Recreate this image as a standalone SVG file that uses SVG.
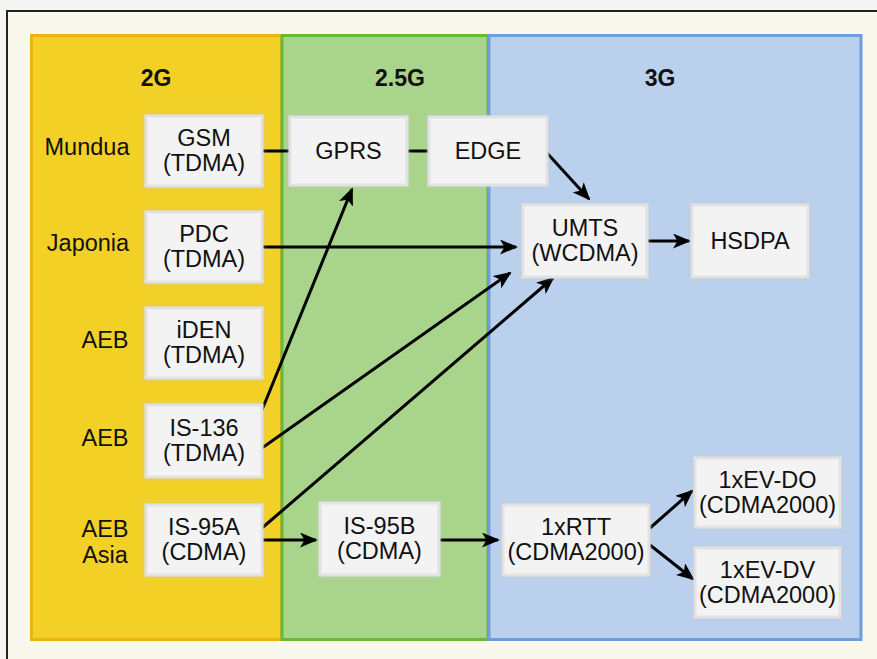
<svg xmlns="http://www.w3.org/2000/svg" width="877" height="659" viewBox="0 0 877 659">
<defs>
<style>
.lbl{font-family:"Liberation Sans",Arial,sans-serif;font-size:23.5px;fill:#111;text-anchor:middle}
.hdr{font-family:"Liberation Sans",Arial,sans-serif;font-size:23px;font-weight:bold;fill:#111;text-anchor:middle}
.box{fill:#f3f3f3;stroke:#e2e2e2;stroke-width:3;filter:url(#soft)}
.ln{stroke:#000;stroke-width:3;fill:none}
.ar{stroke:#000;stroke-width:3;fill:none;marker-end:url(#ah)}
</style>
<filter id="soft" x="-10%" y="-10%" width="120%" height="120%">
<feGaussianBlur in="SourceAlpha" stdDeviation="2" result="b"/>
<feFlood flood-color="#c8c8c8" flood-opacity="0.6"/>
<feComposite in2="b" operator="in" result="s"/>
<feMerge><feMergeNode in="s"/><feMergeNode in="SourceGraphic"/></feMerge>
</filter>
<marker id="ah" viewBox="0 0 18 15" refX="16" refY="7.5" markerWidth="18" markerHeight="15" markerUnits="userSpaceOnUse" orient="auto">
<path d="M0,0 L18,7.5 L0,15 L4.5,7.5 Z" fill="#000"/>
</marker>
</defs>
<rect x="0" y="0" width="877" height="659" fill="#f4f4f2"/>
<rect x="7" y="11" width="880" height="660" fill="#faf7ec" stroke="#222" stroke-width="2"/>
<g id="panels">
<rect x="31.5" y="35.5" width="250" height="604" fill="#f2d026" stroke="#eab514" stroke-width="3"/>
<rect x="282" y="35.5" width="206" height="604" fill="#a9d48b" stroke="#6bb736" stroke-width="3"/>
<rect x="489" y="35.5" width="372" height="604" fill="#bad0ec" stroke="#6e9cdc" stroke-width="3"/>
<text class="hdr" x="156" y="86">2G</text>
<text class="hdr" x="400" y="86">2.5G</text>
<text class="hdr" x="660" y="86">3G</text>
</g>
<g id="regions">
<text class="lbl" x="87" y="155">Mundua</text>
<text class="lbl" x="88" y="251">Japonia</text>
<text class="lbl" x="105" y="348">AEB</text>
<text class="lbl" x="105" y="446">AEB</text>
<text class="lbl" x="105" y="537">AEB</text>
<text class="lbl" x="105" y="563">Asia</text>
</g>
<g id="connectors">
<line class="ln" x1="262" y1="151" x2="290" y2="151"/>
<line class="ln" x1="407" y1="151" x2="429" y2="151"/>
<line class="ar" x1="547" y1="153" x2="589" y2="199"/>
<line class="ar" x1="262" y1="247" x2="516" y2="247"/>
<line class="ar" x1="648" y1="241" x2="689" y2="241"/>
<line class="ar" x1="262" y1="410" x2="352" y2="189"/>
<line class="ar" x1="262" y1="448" x2="510" y2="273"/>
<line class="ar" x1="262" y1="528" x2="553" y2="278"/>
<line class="ar" x1="262" y1="540" x2="316" y2="540"/>
<line class="ar" x1="439" y1="540" x2="498" y2="540"/>
<line class="ar" x1="650" y1="528" x2="692" y2="491"/>
<line class="ar" x1="650" y1="545" x2="693" y2="579"/>
</g>
<g id="n-gsm"><rect class="box" x="146" y="116" width="116" height="70"/><text class="lbl" x="204" y="146">GSM</text><text class="lbl" x="204" y="171">(TDMA)</text></g>
<g id="n-pdc"><rect class="box" x="146" y="212" width="116" height="70"/><text class="lbl" x="204" y="242">PDC</text><text class="lbl" x="204" y="267">(TDMA)</text></g>
<g id="n-iden"><rect class="box" x="146" y="308" width="116" height="70"/><text class="lbl" x="204" y="338">iDEN</text><text class="lbl" x="204" y="363">(TDMA)</text></g>
<g id="n-is136"><rect class="box" x="146" y="405" width="116" height="72"/><text class="lbl" x="204" y="436">IS-136</text><text class="lbl" x="204" y="461">(TDMA)</text></g>
<g id="n-is95a"><rect class="box" x="146" y="505" width="116" height="70"/><text class="lbl" x="204" y="535">IS-95A</text><text class="lbl" x="204" y="560">(CDMA)</text></g>
<g id="n-gprs"><rect class="box" x="290" y="117" width="117" height="68"/><text class="lbl" x="348.5" y="159">GPRS</text></g>
<g id="n-edge"><rect class="box" x="429" y="117" width="118" height="68"/><text class="lbl" x="488" y="159">EDGE</text></g>
<g id="n-umts"><rect class="box" x="523" y="205" width="124" height="72"/><text class="lbl" x="585" y="236">UMTS</text><text class="lbl" x="585" y="261">(WCDMA)</text></g>
<g id="n-hsdpa"><rect class="box" x="692" y="205" width="116" height="72"/><text class="lbl" x="750" y="249">HSDPA</text></g>
<g id="n-is95b"><rect class="box" x="320" y="503" width="119" height="72"/><text class="lbl" x="379.5" y="534">IS-95B</text><text class="lbl" x="379.5" y="559">(CDMA)</text></g>
<g id="n-1xrtt"><rect class="box" x="503" y="505" width="146" height="70"/><text class="lbl" x="576" y="535">1xRTT</text><text class="lbl" x="576" y="560">(CDMA2000)</text></g>
<g id="n-evdo"><rect class="box" x="695" y="458" width="145" height="69"/><text class="lbl" x="767.5" y="488">1xEV-DO</text><text class="lbl" x="767.5" y="513">(CDMA2000)</text></g>
<g id="n-evdv"><rect class="box" x="695" y="548" width="145" height="69"/><text class="lbl" x="767.5" y="578">1xEV-DV</text><text class="lbl" x="767.5" y="603">(CDMA2000)</text></g>
</svg>
